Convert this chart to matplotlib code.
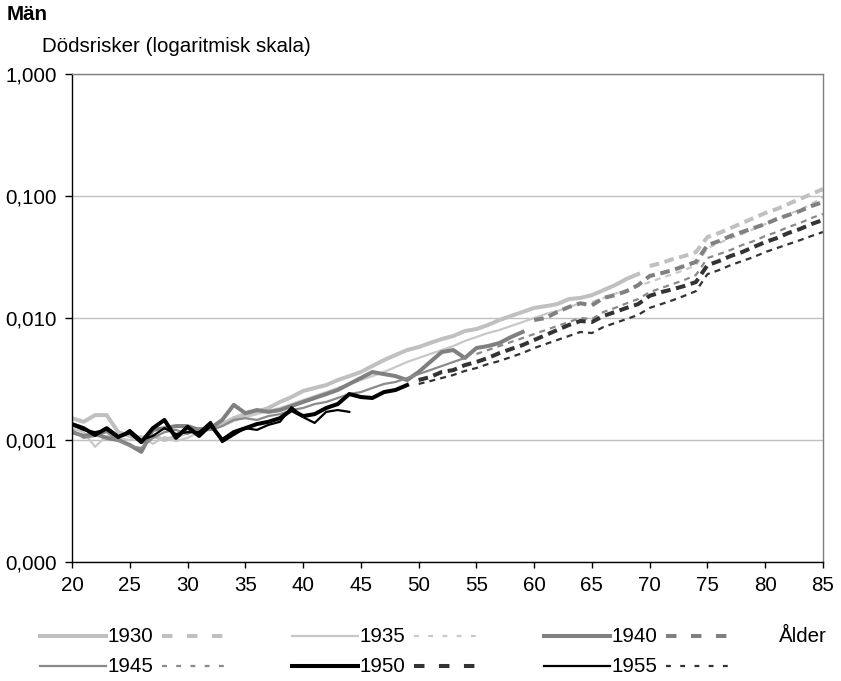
import numpy as np
import matplotlib.pyplot as plt
from matplotlib.ticker import FixedLocator, FuncFormatter, NullLocator

plt.rcParams['font.family'] = ['Liberation Sans', 'DejaVu Sans']
FS = 14.8

# Dödsrisker per 1000 för män, efter födelsekohort.
# obs = observerade värden från 20 år, proj = prognos fram till 85 år.
cohorts = [1930, 1935, 1940, 1945, 1950, 1955]

obs_1930 = [1.51, 1.41, 1.60, 1.60, 1.16, 1.08, 1.04, 1.08, 1.00, 1.06,
            1.16, 1.21, 1.25, 1.35, 1.51, 1.63, 1.70, 1.83, 2.05, 2.25,
            2.52, 2.67, 2.82, 3.10, 3.34, 3.61, 4.04, 4.52, 4.97, 5.46,
            5.78, 6.24, 6.72, 7.12, 7.82, 8.12, 8.76, 9.63, 10.4, 11.2,
            12.1, 12.5, 13.0, 14.3, 14.6, 15.4, 16.9, 18.6, 20.9, 22.9]
proj_1930 = [26.7, 28.2, 30.4, 32.2, 34.7, 46.1, 49.7, 54.6, 60.0, 66.0,
             72.5, 78.2, 86.0, 94.5, 103.8, 114.0]

obs_1935 = [1.25, 1.16, 0.88, 1.08, 1.04, 1.00, 1.08, 0.93, 1.06, 0.98,
            1.04, 1.16, 1.21, 1.30, 1.43, 1.54, 1.63, 1.73, 1.83, 1.97,
            2.13, 2.29, 2.47, 2.67, 2.88, 3.10, 3.34, 3.61, 3.96, 4.36,
            4.70, 5.07, 5.46, 5.89, 6.48, 6.98, 7.53, 7.97, 8.60, 9.27,
            10.0, 10.8, 11.4, 12.3, 13.2]
proj_1935 = [13.5, 14.6, 15.8, 16.9, 18.3, 19.7, 21.3, 22.9, 24.7, 27.1,
             37.4, 41.1, 45.2, 48.8, 53.6, 58.9, 63.6, 71.2, 76.8, 86.0,
             98.1]

obs_1940 = [1.16, 1.08, 1.12, 1.04, 1.00, 0.91, 0.80, 1.21, 1.25, 1.30,
            1.30, 1.21, 1.25, 1.46, 1.94, 1.66, 1.76, 1.70, 1.76, 1.90,
            2.05, 2.21, 2.38, 2.57, 2.88, 3.22, 3.61, 3.47, 3.34, 3.10,
            3.61, 4.36, 5.26, 5.46, 4.70, 5.67, 5.89, 6.24, 6.98, 7.68]
proj_1940 = [9.63, 10.0, 11.2, 12.3, 13.2, 12.7, 14.6, 15.4, 16.6, 18.6,
             22.1, 23.3, 24.7, 26.7, 28.8, 39.5, 42.7, 47.0, 50.7, 54.6,
             58.9, 64.8, 69.8, 75.3, 82.8, 89.3]

obs_1945 = [1.21, 1.04, 1.08, 1.16, 1.00, 0.89, 0.86, 1.04, 1.16, 1.21,
            1.12, 1.25, 1.21, 1.30, 1.46, 1.51, 1.46, 1.57, 1.63, 1.76,
            1.83, 1.97, 2.05, 2.21, 2.38, 2.47, 2.67, 2.88, 2.99, 3.22,
            3.47, 3.74, 4.04, 4.36, 4.70]
proj_1945 = [5.07, 5.46, 5.89, 6.36, 6.85, 7.39, 7.97, 8.60, 9.27, 10.0,
             9.81, 11.2, 12.1, 13.2, 14.3, 16.3, 17.6, 19.0, 20.5, 22.5,
             31.0, 33.4, 36.1, 39.6, 42.7, 47.0, 50.7, 55.7, 60.0, 66.0,
             71.2]

obs_1950 = [1.35, 1.25, 1.10, 1.25, 1.06, 1.16, 0.96, 1.25, 1.46, 1.04,
            1.28, 1.08, 1.33, 1.00, 1.16, 1.25, 1.35, 1.41, 1.51, 1.76,
            1.57, 1.63, 1.83, 1.97, 2.38, 2.25, 2.21, 2.47, 2.57, 2.82]
proj_1950 = [3.10, 3.28, 3.61, 3.74, 4.11, 4.36, 4.70, 5.16, 5.57, 6.00,
             6.60, 7.25, 7.97, 8.76, 9.45, 9.27, 10.4, 11.2, 12.1, 13.0,
             15.2, 16.3, 17.2, 18.3, 19.7, 27.1, 29.3, 32.2, 34.7, 38.2,
             41.9, 45.2, 49.7, 53.6, 58.9, 63.6]

obs_1955 = [1.33, 1.21, 1.16, 1.21, 1.04, 1.21, 1.00, 1.08, 1.25, 1.12,
            1.16, 1.16, 1.41, 0.96, 1.10, 1.25, 1.21, 1.33, 1.41, 1.86,
            1.54, 1.38, 1.70, 1.76, 1.70]
proj_1955 = [2.88, 3.04, 3.22, 3.41, 3.68, 3.89, 4.19, 4.44, 4.79, 5.16,
             5.67, 6.12, 6.60, 7.12, 7.68, 7.53, 8.44, 9.10, 9.81, 10.6,
             12.1, 13.0, 14.0, 15.2, 16.6, 22.9, 24.7, 27.1, 29.3, 31.6,
             34.7, 37.4, 40.3, 43.4, 47.0, 50.7]

observed = [obs_1930, obs_1935, obs_1940, obs_1945, obs_1950, obs_1955]
projected = [proj_1930, proj_1935, proj_1940, proj_1945, proj_1950, proj_1955]

first_age, last_age = 20, 85
yticks = [0.0001, 0.001, 0.01, 0.1, 1.0]
xticks = list(range(20, 90, 5))

# utseende per kohort: (färg heldragen, färg streckad, tjock linje?)
looks = [('#c0c0c0', '#c0c0c0', True),
         ('#c8c8c8', '#c8c8c8', False),
         ('#808080', '#808080', True),
         ('#8a8a8a', '#8a8a8a', False),
         ('#000000', '#333333', True),
         ('#000000', '#333333', False)]
LW_THICK, LW_THIN = 2.9, 1.6
DASH_THICK, DASH_THIN = (2.4, 1.4), (2.7, 2.3)

W, H = 841, 681
fig = plt.figure(figsize=(W / 100, H / 100), dpi=100)
L, R, T, B = 72, 823, 74, 562
ax = fig.add_axes([L / W, 1 - B / H, (R - L) / W, (B - T) / H])

for obs, proj, (c_solid, c_dash, thick) in zip(observed, projected, looks):
    lw = LW_THICK if thick else LW_THIN
    dash = DASH_THICK if thick else DASH_THIN
    a_obs = np.arange(first_age, first_age + len(obs))
    a_proj = np.arange(last_age - len(proj) + 1, last_age + 1)
    ax.plot(a_obs, np.array(obs) / 1000, color=c_solid, lw=lw,
            solid_joinstyle='round')
    ax.plot(a_proj, np.array(proj) / 1000, color=c_dash, lw=lw,
            dashes=dash, dash_capstyle='butt')

ax.set_yscale('log')
ax.set_ylim(yticks[0], yticks[-1])
ax.set_xlim(first_age, last_age)
ax.yaxis.set_major_locator(FixedLocator(yticks))
ax.yaxis.set_minor_locator(NullLocator())
ax.yaxis.set_major_formatter(FuncFormatter(lambda v, p: f"{v:.3f}".replace('.', ',')))
ax.set_xticks(xticks)
ax.grid(axis='y', color='#c0c0c0', lw=1)
ax.set_axisbelow(True)
for side in ['left', 'bottom']:
    ax.spines[side].set_color('black')
    ax.spines[side].set_linewidth(1)
for side in ['top', 'right']:
    ax.spines[side].set_color('#808080')
    ax.spines[side].set_linewidth(1)
ax.tick_params(axis='y', direction='out', length=5, width=1, pad=6, labelsize=FS)
ax.tick_params(axis='x', direction='out', length=4, width=1, pad=6, labelsize=FS)

fig.text(7 / W, 1 - 14 / H, 'Män', fontsize=FS, fontweight='bold', va='center')
fig.text(42 / W, 1 - 46 / H, 'Dödsrisker (logaritmisk skala)', fontsize=FS, va='center')

# teckenförklaring: heldragen linje, årtal, streckad linje
lax = fig.add_axes([0, 0, 1, 1])
lax.set_xlim(0, W)
lax.set_ylim(H, 0)
lax.axis('off')
col_x = [40, 292, 544]
row_y = [636, 666]
for i, (year, (c_solid, c_dash, thick)) in enumerate(zip(cohorts, looks)):
    x0 = col_x[i % 3]
    y = row_y[i // 3]
    lw = LW_THICK if thick else LW_THIN
    dash = (2.6, 3.6) if thick else (2.2, 4.2)
    lax.plot([x0, x0 + 66], [y, y], color=c_solid, lw=lw)
    lax.text(x0 + 68, y, str(year), fontsize=FS, va='center', ha='left')
    lax.plot([x0 + 122, x0 + 190], [y, y], color=c_dash, lw=lw,
             dashes=dash, dash_capstyle='butt')
lax.text(779, row_y[0], 'Ålder', fontsize=FS, va='center', ha='left')

fig.savefig('out.png', dpi=100)
